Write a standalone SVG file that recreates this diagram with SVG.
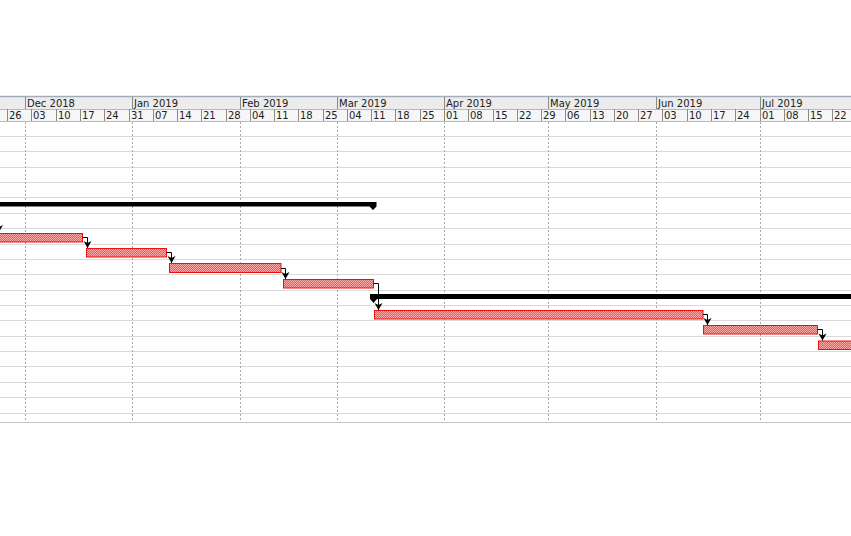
<svg xmlns="http://www.w3.org/2000/svg" width="851" height="536" viewBox="0 0 851 536">
<style>
.hdrtxt{font-family:"DejaVu Sans",sans-serif;font-size:10px;fill:#222}
.tick{stroke:#8a8a8a;stroke-width:1}
.row{stroke:#dadada;stroke-width:1}
.month{stroke:#a8a8a8;stroke-width:1;stroke-dasharray:2,2}
.task{fill:url(#chk);stroke:#ee1010;stroke-width:1}
.sum{fill:#000}
.conn{fill:none;stroke:#000;stroke-width:1}
</style>
<defs>
<pattern id="chk" width="2" height="2" patternUnits="userSpaceOnUse">
<rect width="2" height="2" fill="#ff5252"/>
<rect x="0" y="0" width="1" height="1" fill="#ffa8a8"/>
<rect x="1" y="1" width="1" height="1" fill="#ffa8a8"/>
</pattern>
<marker id="arr" markerUnits="userSpaceOnUse" markerWidth="12" markerHeight="12" refX="0" refY="0" viewBox="-8 -6 9 12" orient="auto">
<path d="M0,0 L-7,-4 L-5,0 L-7,4 z" fill="#000"/>
</marker>
</defs>
<rect width="851" height="536" fill="#fff"/>
<g id="header">
<rect x="0" y="97" width="851" height="12" fill="#ececec"/>
<rect x="0" y="109" width="851" height="12" fill="#f6f6f6"/>
<line x1="0" y1="96.5" x2="851" y2="96.5" stroke="#a3acb9" stroke-width="1.5"/>
<line x1="0" y1="109.5" x2="851" y2="109.5" stroke="#b8b8b8"/>
<line x1="0" y1="121.5" x2="851" y2="121.5" stroke="#b8b8b8"/>
<g class="tick">
<line x1="25.5" y1="97" x2="25.5" y2="109"/><line x1="132.5" y1="97" x2="132.5" y2="109"/><line x1="240.5" y1="97" x2="240.5" y2="109"/><line x1="337.5" y1="97" x2="337.5" y2="109"/><line x1="444.5" y1="97" x2="444.5" y2="109"/><line x1="548.5" y1="97" x2="548.5" y2="109"/><line x1="656.5" y1="97" x2="656.5" y2="109"/><line x1="760.5" y1="97" x2="760.5" y2="109"/>
<line x1="7.5" y1="109" x2="7.5" y2="121"/><line x1="31.5" y1="109" x2="31.5" y2="121"/><line x1="56.5" y1="109" x2="56.5" y2="121"/><line x1="80.5" y1="109" x2="80.5" y2="121"/><line x1="104.5" y1="109" x2="104.5" y2="121"/><line x1="129.5" y1="109" x2="129.5" y2="121"/><line x1="153.5" y1="109" x2="153.5" y2="121"/><line x1="177.5" y1="109" x2="177.5" y2="121"/><line x1="201.5" y1="109" x2="201.5" y2="121"/><line x1="226.5" y1="109" x2="226.5" y2="121"/><line x1="250.5" y1="109" x2="250.5" y2="121"/><line x1="274.5" y1="109" x2="274.5" y2="121"/><line x1="298.5" y1="109" x2="298.5" y2="121"/><line x1="323.5" y1="109" x2="323.5" y2="121"/><line x1="347.5" y1="109" x2="347.5" y2="121"/><line x1="371.5" y1="109" x2="371.5" y2="121"/><line x1="395.5" y1="109" x2="395.5" y2="121"/><line x1="420.5" y1="109" x2="420.5" y2="121"/><line x1="444.5" y1="109" x2="444.5" y2="121"/><line x1="468.5" y1="109" x2="468.5" y2="121"/><line x1="493.5" y1="109" x2="493.5" y2="121"/><line x1="517.5" y1="109" x2="517.5" y2="121"/><line x1="541.5" y1="109" x2="541.5" y2="121"/><line x1="565.5" y1="109" x2="565.5" y2="121"/><line x1="590.5" y1="109" x2="590.5" y2="121"/><line x1="614.5" y1="109" x2="614.5" y2="121"/><line x1="638.5" y1="109" x2="638.5" y2="121"/><line x1="662.5" y1="109" x2="662.5" y2="121"/><line x1="687.5" y1="109" x2="687.5" y2="121"/><line x1="711.5" y1="109" x2="711.5" y2="121"/><line x1="735.5" y1="109" x2="735.5" y2="121"/><line x1="760.5" y1="109" x2="760.5" y2="121"/><line x1="784.5" y1="109" x2="784.5" y2="121"/><line x1="808.5" y1="109" x2="808.5" y2="121"/><line x1="832.5" y1="109" x2="832.5" y2="121"/>
</g>
<g class="hdrtxt">
<text x="27" y="107">Dec 2018</text><text x="134" y="107">Jan 2019</text><text x="242" y="107">Feb 2019</text><text x="339" y="107">Mar 2019</text><text x="446" y="107">Apr 2019</text><text x="550" y="107">May 2019</text><text x="658" y="107">Jun 2019</text><text x="762" y="107">Jul 2019</text>
<text x="9" y="119">26</text><text x="33" y="119">03</text><text x="58" y="119">10</text><text x="82" y="119">17</text><text x="106" y="119">24</text><text x="131" y="119">31</text><text x="155" y="119">07</text><text x="179" y="119">14</text><text x="203" y="119">21</text><text x="228" y="119">28</text><text x="252" y="119">04</text><text x="276" y="119">11</text><text x="300" y="119">18</text><text x="325" y="119">25</text><text x="349" y="119">04</text><text x="373" y="119">11</text><text x="397" y="119">18</text><text x="422" y="119">25</text><text x="446" y="119">01</text><text x="470" y="119">08</text><text x="495" y="119">15</text><text x="519" y="119">22</text><text x="543" y="119">29</text><text x="567" y="119">06</text><text x="592" y="119">13</text><text x="616" y="119">20</text><text x="640" y="119">27</text><text x="664" y="119">03</text><text x="689" y="119">10</text><text x="713" y="119">17</text><text x="737" y="119">24</text><text x="762" y="119">01</text><text x="786" y="119">08</text><text x="810" y="119">15</text><text x="834" y="119">22</text>
</g>
</g>
<g id="grid">
<g class="row">
<line x1="0" y1="136.5" x2="851" y2="136.5"/><line x1="0" y1="151.5" x2="851" y2="151.5"/><line x1="0" y1="167.5" x2="851" y2="167.5"/><line x1="0" y1="182.5" x2="851" y2="182.5"/><line x1="0" y1="197.5" x2="851" y2="197.5"/><line x1="0" y1="213.5" x2="851" y2="213.5"/><line x1="0" y1="228.5" x2="851" y2="228.5"/><line x1="0" y1="244.5" x2="851" y2="244.5"/><line x1="0" y1="259.5" x2="851" y2="259.5"/><line x1="0" y1="274.5" x2="851" y2="274.5"/><line x1="0" y1="290.5" x2="851" y2="290.5"/><line x1="0" y1="305.5" x2="851" y2="305.5"/><line x1="0" y1="320.5" x2="851" y2="320.5"/><line x1="0" y1="336.5" x2="851" y2="336.5"/><line x1="0" y1="351.5" x2="851" y2="351.5"/><line x1="0" y1="366.5" x2="851" y2="366.5"/><line x1="0" y1="382.5" x2="851" y2="382.5"/><line x1="0" y1="397.5" x2="851" y2="397.5"/><line x1="0" y1="413.5" x2="851" y2="413.5"/>
</g>
<line x1="0" y1="422.5" x2="851" y2="422.5" stroke="#c4c4c4"/>
<g class="month">
<line x1="25.5" y1="122" x2="25.5" y2="422"/><line x1="132.5" y1="122" x2="132.5" y2="422"/><line x1="240.5" y1="122" x2="240.5" y2="422"/><line x1="337.5" y1="122" x2="337.5" y2="422"/><line x1="444.5" y1="122" x2="444.5" y2="422"/><line x1="548.5" y1="122" x2="548.5" y2="422"/><line x1="656.5" y1="122" x2="656.5" y2="422"/><line x1="760.5" y1="122" x2="760.5" y2="422"/>
</g>
</g>
<g id="summary1"><path class="sum" d="M-5,202 H376.5 V206.5 L373,210 L369.5,206.5 H-5 z"/></g>
<g id="task1"><rect class="task" x="-5" y="233.5" width="87.5" height="8.5"/></g>
<g id="task2"><rect class="task" x="86.5" y="248.5" width="80" height="8.5"/></g>
<g id="task3"><rect class="task" x="169.5" y="263.5" width="111.5" height="9"/></g>
<g id="task4"><rect class="task" x="283.5" y="279.5" width="90" height="8.5"/></g>
<g id="summary2"><path class="sum" d="M370,294 H856 V299 H377 L373.5,303 L370,299 z"/></g>
<g id="task5"><rect class="task" x="374.5" y="310.5" width="328.5" height="8.5"/></g>
<g id="task6"><rect class="task" x="703.5" y="325.5" width="114" height="8.5"/></g>
<g id="task7"><rect class="task" x="818.5" y="341" width="40" height="8.5"/></g>
<g id="connectors">
<path class="conn" d="M-1,222 V232" marker-end="url(#arr)"/>
<path class="conn" d="M82.5,237.5 H87.5 V248" marker-end="url(#arr)"/>
<path class="conn" d="M166.5,252.5 H171.5 V263" marker-end="url(#arr)"/>
<path class="conn" d="M281,268.5 H285.5 V279" marker-end="url(#arr)"/>
<path class="conn" d="M373.5,283.5 H378.5 V310" marker-end="url(#arr)"/>
<path class="conn" d="M703,314.5 H707.5 V325" marker-end="url(#arr)"/>
<path class="conn" d="M817.5,329.5 H822.5 V340.5" marker-end="url(#arr)"/>
</g>
</svg>
